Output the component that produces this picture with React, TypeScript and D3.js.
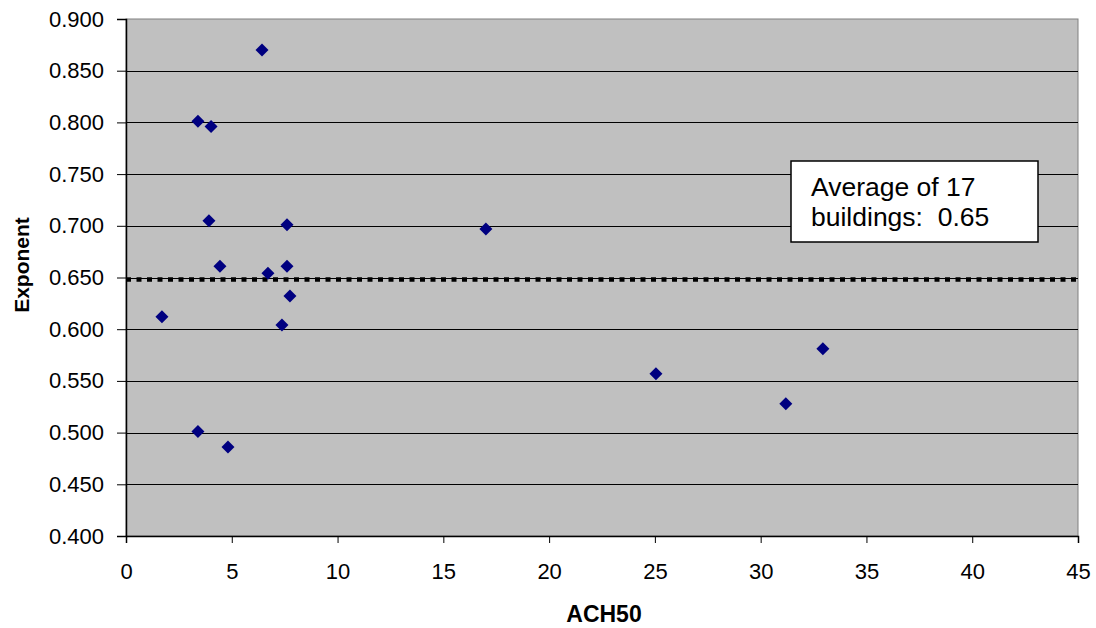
import { useRef, useEffect } from 'react';
import * as d3 from 'd3';

// ACH50 vs. flow exponent for 17 buildings
const ach50 = [1.7, 3.4, 4.02, 6.43, 3.92, 4.44, 7.61, 6.71, 7.61, 7.75, 7.37, 3.4, 4.82, 17.01, 25.05, 31.19, 32.94];
const exponent = [0.612, 0.801, 0.796, 0.870, 0.705, 0.661, 0.701, 0.654, 0.661, 0.632, 0.604, 0.501, 0.486, 0.697, 0.557, 0.528, 0.581];
const averageExponent = 0.648;
const xTicks = [0, 5, 10, 15, 20, 25, 30, 35, 40, 45];
const yTicks = [0.4, 0.45, 0.5, 0.55, 0.6, 0.65, 0.7, 0.75, 0.8, 0.85, 0.9];
const noteLines = ['Average of 17', 'buildings:  0.65'];

const W = 1096;
const H = 628;
const FONT = 'Arial, "Liberation Sans", sans-serif';

export default function App() {
  const svgRef = useRef<SVGSVGElement>(null);

  useEffect(() => {
    const svg = d3.select(svgRef.current);
    svg.selectAll('*').remove();

    const left = 126, right = 1078, top = 19, bottom = 536;
    const x = d3.scaleLinear().domain([0, 45]).range([left, right]);
    const y = d3.scaleLinear().domain([0.4, 0.9]).range([bottom, top]);

    // plot background
    svg.append('rect')
      .attr('x', left).attr('y', top)
      .attr('width', right - left).attr('height', bottom - top)
      .attr('fill', '#c0c0c0')
      .attr('stroke', '#808080')
      .attr('stroke-width', 1);

    // horizontal gridlines
    svg.append('g')
      .selectAll('line')
      .data(yTicks.slice(1, -1))
      .join('line')
      .attr('x1', left).attr('x2', right)
      .attr('y1', (d) => Math.round(y(d)) + 0.5)
      .attr('y2', (d) => Math.round(y(d)) + 0.5)
      .attr('stroke', '#000')
      .attr('stroke-width', 1);

    // y axis
    const yAxis = svg.append('g')
      .attr('transform', `translate(${left},0)`)
      .call(d3.axisLeft(y).tickValues(yTicks).tickFormat(d3.format('.3f')).tickSize(9).tickPadding(13));
    yAxis.select('.domain').attr('stroke', '#000').attr('stroke-width', 1.5);
    yAxis.selectAll('.tick line').attr('stroke', '#000');
    yAxis.selectAll('text')
      .attr('font-family', FONT)
      .attr('font-size', 22)
      .attr('fill', '#000');

    // x axis
    const xAxis = svg.append('g')
      .attr('transform', `translate(0,${bottom})`)
      .call(d3.axisBottom(x).tickValues(xTicks).tickFormat(d3.format('d')).tickSize(7).tickPadding(20));
    xAxis.select('.domain').attr('stroke', '#000').attr('stroke-width', 1.5);
    xAxis.selectAll('.tick line').attr('stroke', '#000');
    xAxis.selectAll('text')
      .attr('font-family', FONT)
      .attr('font-size', 22)
      .attr('fill', '#000');

    // average line
    svg.append('line')
      .attr('x1', left).attr('x2', right)
      .attr('y1', y(averageExponent)).attr('y2', y(averageExponent))
      .attr('stroke', '#000')
      .attr('stroke-width', 4.5)
      .attr('stroke-dasharray', '5,5.5');

    // points
    const r = 6.5;
    svg.append('g')
      .selectAll('path')
      .data(ach50.map((a, i) => [a, exponent[i]]))
      .join('path')
      .attr('transform', (d) => `translate(${x(d[0])},${y(d[1])})`)
      .attr('d', `M0,${-r}L${r},0L0,${r}L${-r},0Z`)
      .attr('fill', '#000080');

    // note box
    const note = svg.append('g').attr('transform', 'translate(791,161)');
    note.append('rect')
      .attr('width', 247).attr('height', 81)
      .attr('fill', '#fff')
      .attr('stroke', '#000')
      .attr('stroke-width', 1.5);
    note.selectAll('text')
      .data(noteLines)
      .join('text')
      .attr('x', 20)
      .attr('y', (_, i) => 35 + i * 30)
      .attr('font-family', FONT)
      .attr('font-size', 26.5)
      .attr('fill', '#000')
      .style('white-space', 'pre')
      .text((d) => d);

    // axis titles
    svg.append('text')
      .attr('x', (left + right) / 2 + 2).attr('y', 622)
      .attr('text-anchor', 'middle')
      .attr('font-family', FONT)
      .attr('font-size', 23)
      .attr('font-weight', 'bold')
      .text('ACH50');

    svg.append('text')
      .attr('transform', `translate(29,${265}) rotate(-90)`)
      .attr('text-anchor', 'middle')
      .attr('font-family', FONT)
      .attr('font-size', 21)
      .attr('font-weight', 'bold')
      .text('Exponent');
  }, []);

  return (
    <svg
      ref={svgRef}
      width={W}
      height={H}
      style={{ position: 'absolute', left: 0, top: 0, background: '#fff' }}
    />
  );
}
